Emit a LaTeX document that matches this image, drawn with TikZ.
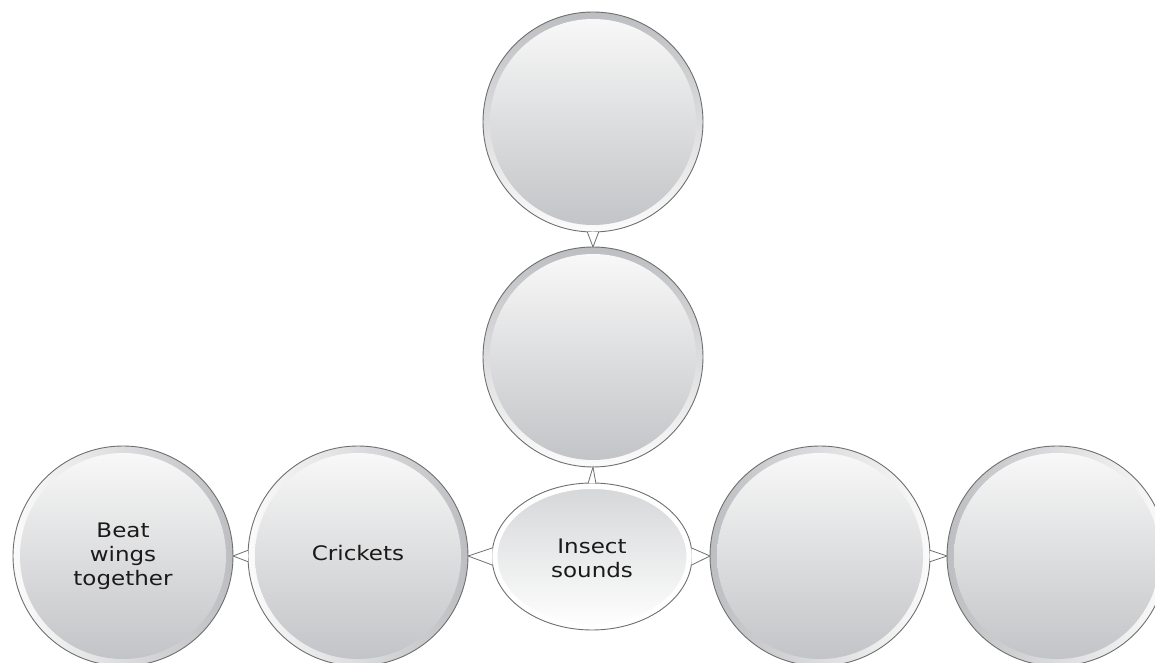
\documentclass[tikz,border=0pt]{standalone}
\usepackage{fontspec}
\setmainfont{DejaVu Sans}[FakeStretch=1.15]
\usetikzlibrary{shapes.geometric}
\definecolor{edgegray}{HTML}{6F6F6F}
\definecolor{ringdark}{HTML}{BDBEC1}
\definecolor{ringlight}{HTML}{FBFBFB}
\definecolor{fillTop}{HTML}{F8F8F8}
\definecolor{fillBot}{HTML}{C3C4C7}
\definecolor{ellTop}{HTML}{D6D7D9}
\definecolor{ellBot}{HTML}{FEFEFE}
\definecolor{txt}{HTML}{1A1A1A}
\begin{document}
\begin{tikzpicture}[x=1pt,y=1pt,
  bub/.style={circle, draw=edgegray, line width=0.9pt, minimum size=220pt, inner sep=0pt, outer sep=0pt},
  ringT/.style={top color=ringdark, bottom color=ringlight},
  ringL/.style={left color=ringdark, right color=ringlight},
  ringR/.style={left color=ringlight, right color=ringdark},
  core/.style={top color=fillTop, bottom color=fillBot},
  ellcore/.style={top color=ellTop, bottom color=ellBot},
  lbl/.style={font=\fontsize{20}{24}\selectfont, text=txt, align=center},
  wedge/.style={draw=edgegray, fill=white, line width=0.8pt, line join=miter}
]
\useasboundingbox (0,0) rectangle (1155,663);
% circles
\node[bub, ringT] (top) at (593,541) {};
\shade[core] (top.center) circle[radius=103pt];
\node[bub, ringT] (mid) at (593,306) {};
\shade[core] (mid.center) circle[radius=103pt];
\node[bub, ringR] (beat) at (123,107) {};
\shade[core] (beat.center) circle[radius=103pt];
\node[bub, ringR] (crk) at (358,107) {};
\shade[core] (crk.center) circle[radius=103pt];
\node[bub, ringL] (r1) at (820,107) {};
\shade[core] (r1.center) circle[radius=103pt];
\node[bub, ringL] (r2) at (1057,107) {};
\shade[core] (r2.center) circle[radius=103pt];
% central ellipse
\node[ellipse, draw=edgegray, line width=0.9pt, fill=white, minimum width=200pt, minimum height=147pt, inner sep=0pt, outer sep=0pt] (ell) at (592,106.5) {};
\shade[ellcore] (ell.center) ellipse[x radius=95pt, y radius=68pt];
\draw[white, line width=1pt] (ell.center) ellipse[x radius=95pt, y radius=68pt];
% connectors
\filldraw[wedge] (top.-87) -- (mid.north) -- (top.-93);
\filldraw[wedge] (ell.87) -- (mid.south) -- (ell.93);
\filldraw[wedge] (ell.175) -- (crk.east) -- (ell.185);
\filldraw[wedge] (crk.177) -- (beat.east) -- (crk.183);
\filldraw[wedge] (ell.5) -- (r1.west) -- (ell.-5);
\filldraw[wedge] (r1.3) -- (r2.west) -- (r1.-3);
% labels
\node[lbl] (beatT) at (beat.center) {Beat\\wings\\together};
\node[lbl] (crkT) at ([yshift=3pt]crk.center) {Crickets};
\node[lbl] (ellT) at ([yshift=-2pt]ell.center) {Insect\\sounds};
\end{tikzpicture}
\end{document}
